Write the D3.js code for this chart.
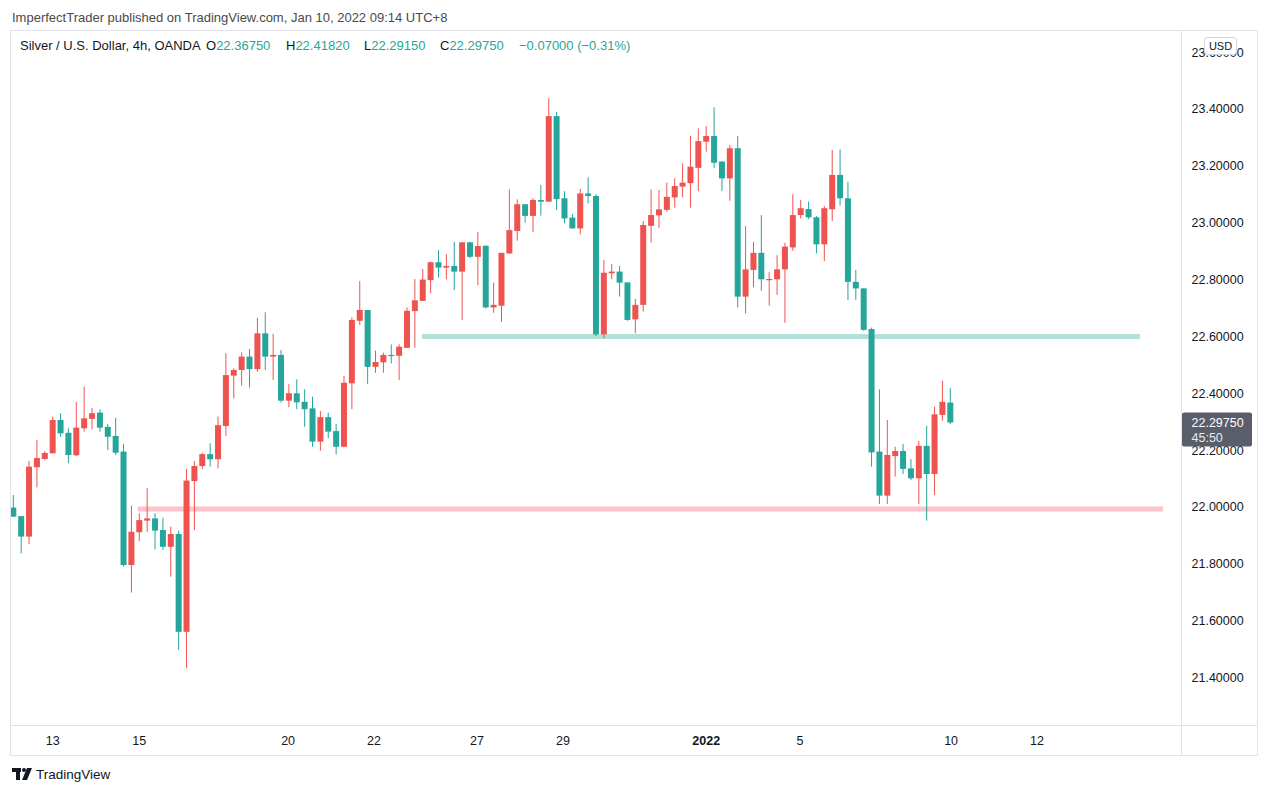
<!DOCTYPE html>
<html>
<head>
<meta charset="utf-8">
<script src="https://cdn.jsdelivr.net/npm/d3@7"></script>
<style>
  body { margin: 0; background: #fff; }
  svg { display: block; font-family: "Liberation Sans", Arial, sans-serif; }
  .axis-label { font-size: 12.5px; fill: #131722; }
  .frame-line { stroke: #e0e3eb; stroke-width: 1; fill: none; }
</style>
</head>
<body>
<svg id="chart"></svg>
<script>
// Silver / USD, 4h candles (OANDA)
const opens = [21.998, 21.968, 21.896, 22.140, 22.169, 22.189, 22.306, 22.261, 22.182, 22.277,
  22.310, 22.332, 22.282, 22.250, 22.195, 21.796, 21.911, 21.952, 21.960, 21.919,
  21.860, 21.905, 21.561, 22.091, 22.144, 22.186, 22.168, 22.285, 22.462, 22.482,
  22.529, 22.485, 22.611, 22.529, 22.535, 22.374, 22.400, 22.370, 22.347, 22.230,
  22.316, 22.267, 22.212, 22.435, 22.655, 22.693, 22.493, 22.509, 22.535, 22.532,
  22.560, 22.689, 22.725, 22.798, 22.861, 22.842, 22.848, 22.828, 22.931, 22.880,
  22.919, 22.702, 22.708, 22.892, 22.971, 23.065, 23.024, 23.080, 23.074, 23.375,
  23.086, 23.018, 22.980, 23.103, 23.094, 22.607, 22.822, 22.828, 22.790, 22.660,
  22.711, 22.989, 23.026, 23.045, 23.089, 23.127, 23.139, 23.193, 23.285, 23.305,
  23.215, 23.156, 23.262, 22.740, 22.834, 22.894, 22.800, 22.801, 22.836, 22.913,
  23.027, 23.048, 23.019, 22.924, 23.047, 23.168, 23.086, 22.792, 22.769, 22.626,
  22.195, 22.040, 22.179, 22.197, 22.136, 22.101, 22.215, 22.116, 22.324, 22.3675];
const highs = [22.042, 21.968, 22.162, 22.236, 22.197, 22.318, 22.330, 22.277, 22.370, 22.423,
  22.349, 22.344, 22.292, 22.314, 22.222, 22.005, 21.978, 22.066, 21.978, 21.962,
  21.931, 21.917, 22.134, 22.162, 22.191, 22.224, 22.318, 22.541, 22.488, 22.544,
  22.556, 22.666, 22.685, 22.609, 22.552, 22.432, 22.449, 22.414, 22.388, 22.338,
  22.332, 22.292, 22.461, 22.667, 22.795, 22.693, 22.550, 22.543, 22.572, 22.572,
  22.702, 22.802, 22.837, 22.863, 22.904, 22.889, 22.933, 22.931, 22.933, 22.967,
  22.919, 22.789, 22.894, 23.117, 23.082, 23.065, 23.086, 23.133, 23.438, 23.390,
  23.111, 23.031, 23.119, 23.160, 23.100, 22.869, 22.855, 22.848, 22.790, 22.732,
  23.006, 23.117, 23.115, 23.141, 23.156, 23.209, 23.306, 23.332, 23.340, 23.406,
  23.217, 23.273, 23.305, 22.988, 22.933, 23.027, 22.826, 22.886, 22.930, 23.100,
  23.080, 23.074, 23.024, 23.059, 23.256, 23.258, 23.144, 22.834, 22.769, 22.631,
  22.414, 22.306, 22.212, 22.222, 22.169, 22.233, 22.286, 22.353, 22.444, 22.4182];
const lows = [21.966, 21.837, 21.869, 22.069, 22.165, 22.189, 22.247, 22.154, 22.179, 22.265,
  22.273, 22.265, 22.200, 22.183, 21.790, 21.699, 21.880, 21.913, 21.851, 21.849,
  21.755, 21.497, 21.433, 21.919, 22.133, 22.142, 22.136, 22.250, 22.382, 22.427,
  22.420, 22.476, 22.482, 22.447, 22.367, 22.351, 22.344, 22.282, 22.212, 22.198,
  22.242, 22.185, 22.210, 22.344, 22.640, 22.433, 22.472, 22.472, 22.505, 22.447,
  22.560, 22.560, 22.725, 22.752, 22.807, 22.801, 22.763, 22.658, 22.875, 22.781,
  22.699, 22.683, 22.652, 22.890, 22.937, 23.000, 22.968, 23.025, 23.074, 23.045,
  22.998, 22.980, 22.959, 23.068, 22.601, 22.593, 22.801, 22.740, 22.655, 22.611,
  22.687, 22.930, 22.982, 23.039, 23.053, 23.089, 23.053, 23.111, 23.250, 23.193,
  23.111, 23.077, 22.702, 22.681, 22.773, 22.761, 22.708, 22.746, 22.648, 22.901,
  23.015, 23.013, 22.892, 22.865, 23.006, 23.060, 22.728, 22.728, 22.620, 22.142,
  22.011, 22.011, 22.107, 22.116, 22.095, 22.011, 21.952, 22.042, 22.304, 22.2915];
const closes = [21.966, 21.896, 22.142, 22.172, 22.190, 22.306, 22.259, 22.183, 22.279, 22.312,
  22.330, 22.279, 22.247, 22.191, 21.796, 21.913, 21.954, 21.960, 21.917, 21.860,
  21.905, 21.561, 22.093, 22.144, 22.186, 22.168, 22.288, 22.464, 22.482, 22.529,
  22.485, 22.611, 22.529, 22.535, 22.374, 22.400, 22.368, 22.344, 22.230, 22.316,
  22.265, 22.212, 22.437, 22.658, 22.693, 22.493, 22.510, 22.535, 22.532, 22.564,
  22.690, 22.727, 22.800, 22.861, 22.842, 22.848, 22.828, 22.931, 22.880, 22.918,
  22.702, 22.711, 22.894, 22.974, 23.065, 23.024, 23.080, 23.074, 23.375, 23.083,
  23.015, 22.980, 23.103, 23.094, 22.607, 22.824, 22.828, 22.789, 22.658, 22.711,
  22.992, 23.027, 23.047, 23.091, 23.129, 23.141, 23.197, 23.287, 23.305, 23.211,
  23.156, 23.262, 22.740, 22.836, 22.894, 22.801, 22.802, 22.836, 22.916, 23.027,
  23.051, 23.019, 22.924, 23.051, 23.168, 23.086, 22.792, 22.769, 22.623, 22.192,
  22.040, 22.183, 22.197, 22.134, 22.101, 22.215, 22.116, 22.326, 22.370, 22.2975];

const priceTicks = [21.4, 21.6, 21.8, 22.0, 22.2, 22.4, 22.6, 22.8, 23.0, 23.2, 23.4, 23.6];
const dateTickLabels = ['13', '15', '20', '22', '27', '29', '2022', '5', '10', '12'];
const dateTickIndex = [5.0, 16.0, 34.9, 45.8, 58.9, 69.8, 88.0, 99.9, 119.1, 130.0];

// drawn support / resistance levels
const levelPrices = [22.600, 21.993];
const levelFrom = [51.9, 15.8];
const levelTo = [143.1, 146.0];
const levelColors = ['#b3e0d8', '#fcc3cb'];

const legendKeys = ['O', 'H', 'L', 'C'];
const legendValues = ['22.36750', '22.41820', '22.29150', '22.29750'];
const legendChange = '\u22120.07000 (\u22120.31%)';
const lastPrice = 22.2975;
const countdown = '45:50';

class CandleChart {

  constructor(_config, _data) {
    this.config = {
      parentElement: _config.parentElement,
      containerWidth: _config.containerWidth || 1268,
      containerHeight: _config.containerHeight || 793,
      pane: _config.pane || {left: 10.5, top: 30.5, right: 1181.5, bottom: 725.5},
      outer: _config.outer || {right: 1257.5, bottom: 755.5},
      legendX: [206, 286, 364, 440, 519],
      upColor: '#ef5350',
      downColor: '#26a69a'
    };
    this.data = _data;
    this.initVis();
  }

  initVis() {
    let vis = this;
    const p = vis.config.pane;

    vis.svg = d3.select(vis.config.parentElement)
        .attr('width', vis.config.containerWidth)
        .attr('height', vis.config.containerHeight);

    // candle index -> pixel, calibrated on first / last bar
    vis.xScale = d3.scaleLinear()
        .domain([0, 119])
        .range([13.3, 950.3]);

    // price -> pixel, calibrated on the 22.0 and 23.4 grid labels
    vis.yScale = d3.scaleLinear()
        .domain([22.0, 23.4])
        .range([507, 109]);

    vis.svg.append('text')
        .attr('x', 12)
        .attr('y', 22)
        .attr('fill', '#4a4a4a')
        .style('font-size', '13px')
        .text('ImperfectTrader published on TradingView.com, Jan 10, 2022 09:14 UTC+8');

    // frame
    vis.svg.append('rect')
        .attr('class', 'frame-line')
        .attr('x', p.left)
        .attr('y', p.top)
        .attr('width', vis.config.outer.right - p.left)
        .attr('height', vis.config.outer.bottom - p.top);
    vis.svg.append('line')
        .attr('class', 'frame-line')
        .attr('x1', p.right).attr('x2', p.right)
        .attr('y1', p.top).attr('y2', vis.config.outer.bottom);
    vis.svg.append('line')
        .attr('class', 'frame-line')
        .attr('x1', p.left).attr('x2', vis.config.outer.right)
        .attr('y1', p.bottom).attr('y2', p.bottom);

    vis.svg.append('clipPath')
        .attr('id', 'pane-clip')
      .append('rect')
        .attr('x', p.left + 0.5)
        .attr('y', p.top + 0.5)
        .attr('width', p.right - p.left - 1)
        .attr('height', p.bottom - p.top - 1);

    vis.chart = vis.svg.append('g').attr('clip-path', 'url(#pane-clip)');
    vis.levelsG = vis.chart.append('g');
    vis.candlesG = vis.chart.append('g');

    vis.yAxisG = vis.svg.append('g')
        .attr('transform', `translate(${p.right},0)`);
    vis.xAxisG = vis.svg.append('g')
        .attr('transform', `translate(0,${p.bottom})`);
    vis.overlayG = vis.svg.append('g');
  }

  updateVis() {
    let vis = this;
    vis.candles = vis.data.opens.map((o, i) => ({
      i: i,
      open: o,
      high: vis.data.highs[i],
      low: vis.data.lows[i],
      close: vis.data.closes[i]
    }));
    vis.levels = levelPrices.map((v, i) => ({price: v, from: levelFrom[i], to: levelTo[i], color: levelColors[i]}));
    vis.renderVis();
  }

  renderVis() {
    let vis = this;
    const x = vis.xScale, y = vis.yScale;
    const colorOf = d => d.close < d.open ? vis.config.downColor : vis.config.upColor;

    vis.levelsG.selectAll('.level')
        .data(vis.levels)
      .join('line')
        .attr('class', 'level')
        .attr('x1', d => x(d.from))
        .attr('x2', d => x(d.to))
        .attr('y1', d => y(d.price))
        .attr('y2', d => y(d.price))
        .attr('stroke', d => d.color)
        .attr('stroke-width', 5);

    const g = vis.candlesG.selectAll('.candle')
        .data(vis.candles)
      .join('g')
        .attr('class', 'candle');

    g.append('rect')
        .attr('x', d => x(d.i) - 0.5)
        .attr('width', 1)
        .attr('y', d => y(d.high))
        .attr('height', d => Math.max(1, y(d.low) - y(d.high)))
        .attr('fill', colorOf);

    g.append('rect')
        .attr('x', d => x(d.i) - 3)
        .attr('width', 6)
        .attr('y', d => y(Math.max(d.open, d.close)))
        .attr('height', d => Math.max(1.2, Math.abs(y(d.open) - y(d.close))))
        .attr('fill', colorOf);

    // price axis labels (the top one sits under the currency badge, as in the snapshot)
    vis.yAxisG.selectAll('.axis-label')
        .data(priceTicks)
      .join('text')
        .attr('class', 'axis-label')
        .attr('x', 10)
        .attr('y', d => y(d))
        .attr('dy', '0.35em')
        .text(d => d3.format('.5f')(d));

    // time axis labels
    vis.xAxisG.selectAll('.axis-label')
        .data(dateTickLabels)
      .join('text')
        .attr('class', 'axis-label')
        .attr('x', (d, i) => x(dateTickIndex[i]))
        .attr('y', 15)
        .attr('dy', '0.35em')
        .attr('text-anchor', 'middle')
        .style('font-weight', d => d === '2022' ? 'bold' : 'normal')
        .text(d => d);

    // legend line
    const lx = vis.config.legendX;
    vis.overlayG.append('text')
        .attr('x', 20).attr('y', 50)
        .style('font-size', '13px')
        .attr('fill', '#131722')
        .text('Silver / U.S. Dollar, 4h, OANDA');
    legendKeys.forEach((k, i) => {
      const t = vis.overlayG.append('text')
          .attr('x', lx[i]).attr('y', 50)
          .style('font-size', '13px')
          .attr('fill', '#131722');
      t.append('tspan').text(k);
      t.append('tspan').attr('fill', vis.config.downColor).text(legendValues[i]);
    });
    vis.overlayG.append('text')
        .attr('x', lx[4]).attr('y', 50)
        .style('font-size', '13px')
        .attr('fill', vis.config.downColor)
        .text(legendChange);

    // currency badge
    vis.overlayG.append('rect')
        .attr('x', 1204.5).attr('y', 37.5)
        .attr('width', 32).attr('height', 17).attr('rx', 3)
        .attr('fill', '#fff').attr('stroke', '#d1d4dc');
    vis.overlayG.append('text')
        .attr('x', 1220.5).attr('y', 46).attr('dy', '0.35em')
        .attr('text-anchor', 'middle')
        .style('font-size', '11px').attr('fill', '#131722')
        .text('USD');

    // last price label
    const ly = y(lastPrice);
    vis.overlayG.append('rect')
        .attr('x', vis.config.pane.right + 0.5).attr('y', ly - 10)
        .attr('width', 70).attr('height', 34).attr('rx', 2)
        .attr('fill', '#5a5e6a');
    vis.overlayG.append('text')
        .attr('class', 'axis-label')
        .attr('x', vis.config.pane.right + 10).attr('y', ly).attr('dy', '0.35em')
        .style('fill', '#fff')
        .text(d3.format('.5f')(lastPrice));
    vis.overlayG.append('text')
        .attr('class', 'axis-label')
        .attr('x', vis.config.pane.right + 10).attr('y', ly + 15).attr('dy', '0.35em')
        .style('fill', '#e6e8ee')
        .text(countdown);

    // footer logo
    const logo = vis.svg.append('g').attr('fill', '#131722');
    logo.append('rect').attr('x', 12).attr('y', 768).attr('width', 9).attr('height', 4);
    logo.append('rect').attr('x', 16).attr('y', 768).attr('width', 4).attr('height', 12);
    logo.append('circle').attr('cx', 24).attr('cy', 770).attr('r', 2);
    logo.append('path').attr('d', 'M27,768 L32,768 L27,780 L22,780 Z');
    vis.svg.append('text')
        .attr('x', 36).attr('y', 779)
        .style('font-size', '13.5px')
        .attr('fill', '#131722')
        .text('TradingView');
  }
}

const chart = new CandleChart({parentElement: '#chart'}, {opens, highs, lows, closes});
chart.updateVis();
</script>
</body>
</html>
